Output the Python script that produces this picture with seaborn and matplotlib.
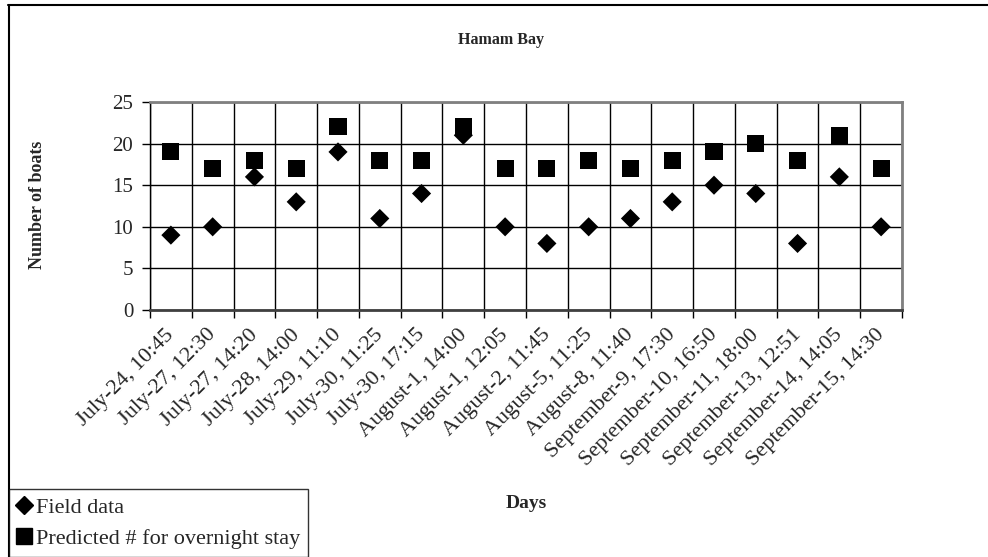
import matplotlib
matplotlib.use("Agg")
import matplotlib.pyplot as plt
import matplotlib.transforms as mtransforms
from matplotlib.lines import Line2D
import seaborn as sns
import pandas as pd
import numpy as np

days = [
    "July-24, 10:45", "July-27, 12:30", "July-27, 14:20", "July-28, 14:00",
    "July-29, 11:10", "July-30, 11:25", "July-30, 17:15", "August-1, 14:00",
    "August-1, 12:05", "August-2, 11:45", "August-5, 11:25", "August-8, 11:40",
    "September-9, 17:30", "September-10, 16:50", "September-11, 18:00",
    "September-13, 12:51", "September-14, 14:05", "September-15, 14:30",
]
field_data = [9, 10, 16, 13, 19, 11, 14, 21, 10, 8, 10, 11, 13, 15, 14, 8, 16, 10]
predicted = [19, 17, 18, 17, 22, 18, 18, 22, 17, 17, 18, 17, 18, 19, 20, 18, 21, 17]
y_ticks = [0, 5, 10, 15, 20, 25]

sns.set_theme(style="white")
plt.rcParams["font.family"] = ["Liberation Serif", "DejaVu Serif"]

pos = np.arange(len(days))
df = pd.DataFrame({"pos": pos, "Field data": field_data,
                   "Predicted # for overnight stay": predicted})

fig = plt.figure(figsize=(9.88, 5.57), dpi=100)
ax = fig.add_axes([150 / 988, 1 - 310 / 557, (902 - 150) / 988, (310 - 102) / 557])

sns.scatterplot(data=df, x="pos", y="Predicted # for overnight stay", ax=ax,
                marker="s", s=150, color="black", edgecolor="none", zorder=4)
sns.scatterplot(data=df, x="pos", y="Field data", ax=ax,
                marker="D", s=95, color="black", edgecolor="none", zorder=5)

ax.set_xlim(-0.5, len(days) - 0.5)
ax.set_ylim(0, 25)

# category boundaries carry the tick marks and vertical grid lines
ax.set_xticks(np.arange(len(days) + 1) - 0.5)
ax.set_xticklabels([])
ax.set_xticks(pos, minor=True)
ax.set_xticklabels(days, minor=True, rotation=45, ha="right", va="top",
                   rotation_mode="anchor", fontsize=16)
ax.tick_params(axis="x", which="minor", length=0, pad=11)
ax.tick_params(axis="x", which="major", direction="out", length=6, width=1,
               color="black", bottom=True)
shift = mtransforms.ScaledTranslation(-6 / 100, 0, fig.dpi_scale_trans)
for lbl in ax.get_xticklabels(minor=True):
    lbl.set_transform(lbl.get_transform() + shift)

ax.set_yticks(y_ticks)
ax.set_yticklabels([str(v) for v in y_ticks], fontsize=15)
ax.tick_params(axis="y", direction="out", length=6, width=1, color="black",
               left=True, pad=6)

ax.grid(True, which="major", axis="both", color="black", linewidth=1.0)
ax.set_axisbelow(True)

for side in ["top", "right"]:
    ax.spines[side].set_color("#808080")
    ax.spines[side].set_linewidth(2)
ax.spines["left"].set_color("black")
ax.spines["left"].set_linewidth(1)
ax.spines["bottom"].set_color("#404040")
ax.spines["bottom"].set_linewidth(2)

ax.set_xlabel("")
ax.set_ylabel("")

fig.text(501 / 988, 1 - 40 / 557, "Hamam Bay", ha="center", va="center",
         fontsize=11.5, fontweight="bold")
fig.text(37 / 988, 1 - 205 / 557, "Number of boats", ha="center", va="center",
         rotation=90, fontsize=13, fontweight="bold")
fig.text(526 / 988, 1 - 503 / 557, "Days", ha="center", va="center",
         fontsize=14, fontweight="bold")

# outer chart frame (top and left edges)
fig.add_artist(Line2D([8 / 988, 1.0], [1 - 4.5 / 557, 1 - 4.5 / 557],
                      color="black", linewidth=1.5, transform=fig.transFigure))
fig.add_artist(Line2D([8.5 / 988, 8.5 / 988], [1 - 4.5 / 557, 0.0],
                      color="black", linewidth=1.5, transform=fig.transFigure))

handles = [
    Line2D([], [], marker="D", linestyle="none", color="black", markersize=9.5),
    Line2D([], [], marker="s", linestyle="none", color="black", markersize=12),
]
leg = fig.legend(handles, ["Field data", "Predicted # for overnight stay"],
                 loc="lower left", bbox_to_anchor=(8.5 / 988, 0.0),
                 frameon=True, fontsize=16, handlelength=0.7, handletextpad=0.2,
                 borderpad=0.35, labelspacing=0.5, borderaxespad=0.0,
                 fancybox=False)
leg.get_frame().set_edgecolor("black")
leg.get_frame().set_linewidth(1.0)

fig.savefig("out.png", dpi=100, facecolor="white")
